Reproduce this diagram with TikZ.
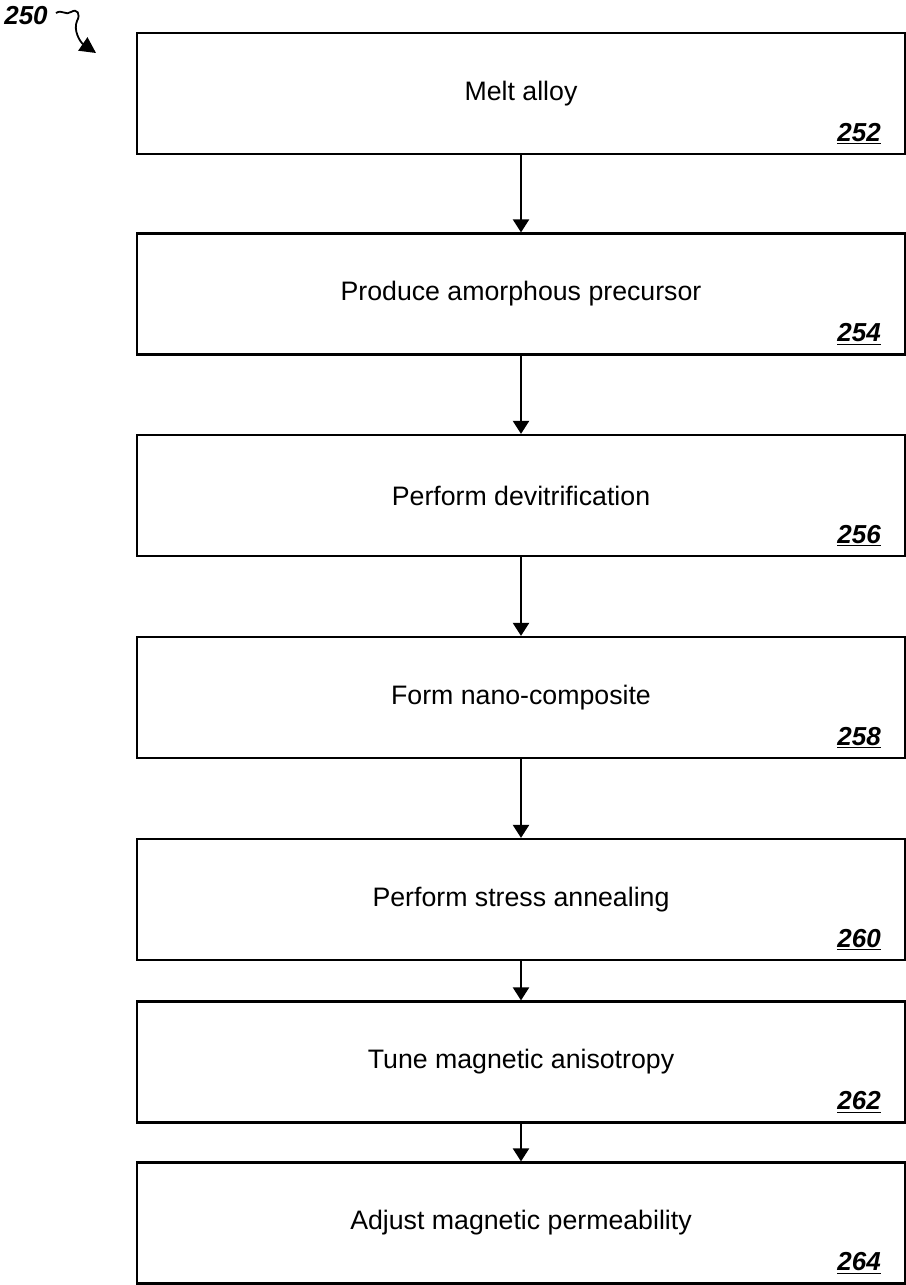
\documentclass[tikz,border=0pt]{standalone}
\usepackage{fontspec}
\setmainfont{Liberation Sans}
\usetikzlibrary{arrows.meta, positioning}

\begin{document}
\begin{tikzpicture}[x=0.25mm, y=-0.25mm,
  box/.style={draw, rectangle, line width=0.55mm, minimum width=192mm, minimum height=30.25mm, font=\fontsize{19}{23}\selectfont},
  num/.style={inner sep=0pt, font=\fontsize{18.5}{22}\selectfont\bfseries\itshape},
  flow/.style={line width=0.55mm, -{Triangle[length=3.25mm, width=4mm]}}]
 \useasboundingbox (0,0) rectangle (906,1285);
 % steps
 \node[box] (b252) at (521, 93.5) {Melt alloy};
 \node[box] (b254) at (521, 294) {Produce amorphous precursor};
 \node[box] (b256) at (521, 495.5) {Perform devitrification};
 \node[box] (b258) at (521, 697.5) {Form nano-composite};
 \node[box] (b260) at (521, 899.5) {Perform stress annealing};
 \node[box] (b262) at (521, 1062) {Tune magnetic anisotropy};
 \node[box] (b264) at (521, 1223) {Adjust magnetic permeability};
 % reference numerals
 \node[num, above left=2.6mm and 6.25mm of b252.south east] (n252) {\underline{252}};
 \node[num, above left=2.6mm and 6.25mm of b254.south east] (n254) {\underline{254}};
 \node[num, above left=2.6mm and 6.25mm of b256.south east] (n256) {\underline{256}};
 \node[num, above left=2.6mm and 6.25mm of b258.south east] (n258) {\underline{258}};
 \node[num, above left=2.6mm and 6.25mm of b260.south east] (n260) {\underline{260}};
 \node[num, above left=2.6mm and 6.25mm of b262.south east] (n262) {\underline{262}};
 \node[num, above left=2.6mm and 6.25mm of b264.south east] (n264) {\underline{264}};
 \draw[flow] (b252) -- (b254);
 \draw[flow] (b254) -- (b256);
 \draw[flow] (b256) -- (b258);
 \draw[flow] (b258) -- (b260);
 \draw[flow] (b260) -- (b262);
 \draw[flow] (b262) -- (b264);
 % figure label
 \node[num] (fig) at (26, 16) {250};
 \coordinate (tip) at (96, 53);
 \draw[line width=0.45mm, -{Triangle[length=4mm, width=4mm]}] ([shift={(8,-3)}]fig.east) .. controls (62,9) and (66,16) .. (71,12) .. controls (77,8) and (81,14) .. (77,21) .. controls (73,30) and (80,42) .. (tip);
\end{tikzpicture}
\end{document}
